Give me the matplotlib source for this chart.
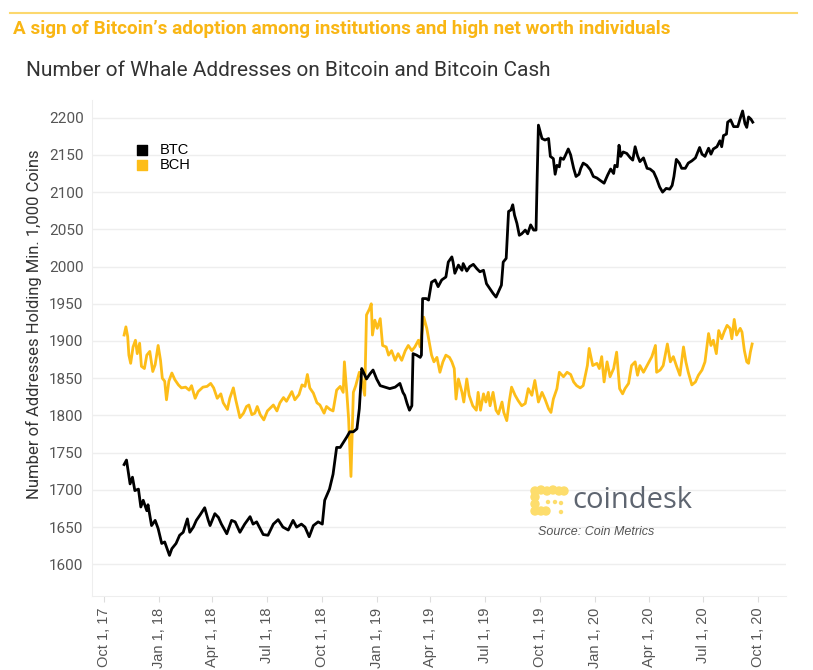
import numpy as np
import pandas as pd
import matplotlib
matplotlib.use('Agg')
import matplotlib.pyplot as plt
from matplotlib.patches import Circle
from matplotlib.transforms import IdentityTransform

plt.rcParams['font.family'] = ['Roboto', 'DejaVu Sans']

start = pd.Timestamp('2017-10-01')

# day offset from Oct 1 2017, whale address count
btc_days = [34, 38, 44, 48, 52, 58, 62, 66, 72, 74, 80, 86, 91, 97, 102, 110, 114,
            121, 127, 133, 140, 144, 150, 155, 161, 169, 175, 178, 186, 192, 197,
            206, 214, 220, 228, 236, 245, 250, 256, 267, 275, 284, 292, 300, 309,
            317, 323, 331, 337, 344, 351, 359, 366, 370, 378, 384, 390, 396, 407,
            412, 418, 424, 428, 432, 435, 440, 446, 451, 457, 463, 471, 479, 488,
            496, 501, 504, 508, 512, 516, 518, 524, 530, 532, 534, 540, 544, 549,
            555, 560, 566, 573, 577, 583, 585, 588, 594, 600, 602, 608, 613, 619,
            625, 630, 636, 641, 647, 652, 657, 661, 666, 669, 674, 678, 682, 685,
            688, 692, 696, 700, 706, 710, 715, 720, 724, 726, 728, 734, 739, 745,
            748, 753, 756, 759, 763, 765, 770, 773, 778, 782, 787, 791, 796, 799,
            803, 809, 815, 820, 826, 831, 838, 844, 849, 854, 856, 860, 863, 866,
            870, 876, 882, 886, 890, 894, 898, 904, 910, 915, 921, 926, 931, 936,
            942, 948, 952, 955, 959, 964, 968, 974, 979, 985, 991, 998, 1002, 1007,
            1013, 1017, 1021, 1027, 1032, 1035, 1038, 1043, 1045, 1050, 1055, 1062,
            1066, 1070, 1074, 1077, 1080, 1084, 1087]
btc_vals = [1734, 1740, 1708, 1717, 1699, 1701, 1677, 1686, 1672, 1680, 1652, 1659,
            1648, 1628, 1630, 1612, 1621, 1628, 1639, 1643, 1661, 1643, 1650, 1659,
            1666, 1676, 1659, 1652, 1668, 1663, 1654, 1641, 1659, 1657, 1643, 1654,
            1664, 1654, 1657, 1640, 1639, 1654, 1660, 1650, 1646, 1659, 1650, 1654,
            1650, 1637, 1652, 1657, 1654, 1686, 1701, 1721, 1757, 1757, 1771, 1778,
            1778, 1782, 1809, 1863, 1858, 1849, 1856, 1861, 1849, 1840, 1838, 1836,
            1838, 1843, 1831, 1827, 1816, 1807, 1813, 1883, 1881, 1878, 1881, 1957,
            1957, 1955, 1979, 1982, 1973, 1982, 1986, 2006, 2013, 2006, 1991, 2002,
            1995, 2004, 1994, 2000, 2003, 1997, 1993, 1995, 1977, 1970, 1964, 1959,
            1966, 1975, 2006, 2011, 2074, 2076, 2083, 2069, 2058, 2042, 2044, 2049,
            2044, 2056, 2049, 2049, 2123, 2190, 2172, 2170, 2172, 2148, 2145, 2124,
            2136, 2134, 2146, 2144, 2149, 2158, 2150, 2132, 2121, 2124, 2132, 2139,
            2136, 2130, 2121, 2119, 2116, 2112, 2123, 2131, 2125, 2136, 2134, 2163,
            2148, 2154, 2152, 2146, 2143, 2161, 2149, 2141, 2146, 2132, 2131, 2127,
            2118, 2107, 2100, 2105, 2104, 2109, 2121, 2144, 2139, 2132, 2132, 2139,
            2142, 2146, 2160, 2151, 2148, 2159, 2151, 2158, 2161, 2169, 2161, 2176,
            2178, 2194, 2197, 2188, 2188, 2199, 2209, 2192, 2187, 2201, 2198, 2194]

bch_days = [34, 37, 40, 42, 45, 49, 53, 56, 60, 63, 68, 72, 77, 82, 86, 91, 95, 98,
            102, 105, 109, 114, 119, 125, 130, 137, 143, 147, 153, 158, 166, 173,
            179, 184, 190, 196, 200, 207, 211, 217, 221, 228, 234, 239, 243, 248,
            253, 257, 262, 268, 274, 279, 284, 290, 295, 301, 306, 315, 320, 327,
            332, 337, 341, 345, 351, 357, 362, 369, 373, 379, 384, 390, 396, 401,
            403, 407, 410, 414, 418, 422, 428, 432, 437, 440, 445, 448, 450, 454,
            458, 463, 467, 473, 477, 482, 488, 493, 499, 505, 510, 516, 521, 527,
            530, 536, 541, 545, 549, 553, 558, 563, 568, 573, 579, 583, 587, 590,
            594, 600, 603, 608, 612, 618, 624, 627, 631, 636, 640, 644, 647, 652,
            657, 661, 667, 670, 675, 679, 683, 689, 694, 700, 706, 711, 717, 722,
            728, 734, 739, 745, 749, 753, 759, 763, 770, 776, 782, 787, 792, 798,
            803, 810, 813, 819, 826, 830, 834, 838, 843, 848, 854, 859, 864, 869,
            873, 879, 884, 890, 894, 898, 904, 910, 918, 924, 926, 932, 937, 944,
            949, 954, 959, 965, 971, 975, 979, 985, 991, 996, 1002, 1007, 1013,
            1017, 1021, 1026, 1030, 1035, 1039, 1044, 1049, 1052, 1056, 1060, 1066,
            1069, 1073, 1077, 1080, 1083, 1086]
bch_vals = [1908, 1919, 1906, 1881, 1870, 1892, 1901, 1883, 1897, 1866, 1863, 1881,
            1886, 1859, 1868, 1894, 1874, 1850, 1846, 1821, 1846, 1857, 1848, 1841,
            1837, 1838, 1834, 1840, 1823, 1832, 1838, 1839, 1843, 1837, 1823, 1829,
            1817, 1808, 1823, 1837, 1821, 1797, 1803, 1812, 1814, 1801, 1803, 1812,
            1801, 1794, 1806, 1810, 1814, 1806, 1817, 1824, 1819, 1832, 1821, 1828,
            1841, 1839, 1855, 1837, 1830, 1817, 1814, 1803, 1812, 1808, 1806, 1834,
            1839, 1831, 1872, 1831, 1796, 1718, 1831, 1840, 1858, 1849, 1827, 1935,
            1943, 1950, 1908, 1928, 1917, 1930, 1894, 1892, 1881, 1887, 1874, 1883,
            1874, 1887, 1894, 1887, 1892, 1901, 1892, 1932, 1917, 1899, 1881, 1872,
            1878, 1858, 1872, 1881, 1878, 1872, 1863, 1822, 1849, 1831, 1818, 1849,
            1827, 1813, 1807, 1831, 1807, 1829, 1818, 1831, 1813, 1831, 1807, 1802,
            1818, 1804, 1793, 1818, 1838, 1827, 1820, 1813, 1816, 1836, 1827, 1847,
            1818, 1831, 1822, 1809, 1804, 1822, 1836, 1858, 1852, 1858, 1855, 1845,
            1840, 1837, 1840, 1867, 1890, 1867, 1870, 1863, 1879, 1845, 1872, 1852,
            1863, 1885, 1836, 1829, 1836, 1843, 1867, 1872, 1854, 1867, 1858, 1867,
            1879, 1894, 1858, 1861, 1867, 1896, 1872, 1879, 1867, 1854, 1892, 1872,
            1858, 1841, 1845, 1854, 1861, 1872, 1910, 1894, 1901, 1883, 1914, 1903,
            1912, 1921, 1917, 1903, 1929, 1908, 1917, 1912, 1887, 1872, 1870, 1885,
            1896]

tick_dates = ['2017-10-01', '2018-01-01', '2018-04-01', '2018-07-01', '2018-10-01',
              '2019-01-01', '2019-04-01', '2019-07-01', '2019-10-01', '2020-01-01',
              '2020-04-01', '2020-07-01', '2020-10-01']
tick_labels = ['Oct 1, 17', 'Jan 1, 18', 'Apr 1, 18', 'Jul 1, 18', 'Oct 1, 18',
               'Jan 1, 19', 'Apr 1, 19', 'Jul 1, 19', 'Oct 1, 19', 'Jan 1, 20',
               'Apr 1, 20', 'Jul 1, 20', 'Oct 1, 20']
y_ticks = [1600, 1650, 1700, 1750, 1800, 1850, 1900, 1950, 2000, 2050, 2100, 2150, 2200]

btc_x = start + pd.to_timedelta(btc_days, unit='D')
bch_x = start + pd.to_timedelta(bch_days, unit='D')

gold = '#FDBD18'
W, H = 813, 670
fig = plt.figure(figsize=(8.13, 6.70), dpi=100)
ax = fig.add_axes([0.113, 0.110, 0.854, 0.741])

ax.plot(bch_x, bch_vals, color=gold, lw=2.0, zorder=3)
ax.plot(btc_x, btc_vals, color='black', lw=2.0, zorder=4)

ax.set_ylim(1557, 2224)
ax.set_xlim(start - pd.Timedelta(days=20), start + pd.Timedelta(days=1143))
ax.set_yticks(y_ticks)
ax.set_xticks(pd.to_datetime(tick_dates))
ax.set_xticklabels(tick_labels, rotation=90, fontsize=10.5, color='#555555',
                   family=['Liberation Sans', 'DejaVu Sans'])
ax.tick_params(axis='y', length=0, labelsize=11, labelcolor='#555555', pad=6)
ax.tick_params(axis='x', length=4, color='#dddddd', pad=4)
ax.grid(axis='y', color='#eeeeee', lw=1)
for s in ['top', 'right']:
    ax.spines[s].set_visible(False)
for s in ['left', 'bottom']:
    ax.spines[s].set_color('#eeeeee')
ax.set_ylabel('Number of Addresses Holding Min. 1,000 Coins', fontsize=12,
              color='#333333')
ax.yaxis.set_label_coords(-0.072, 0.548)

# legend squares
ax.scatter([], [], marker='s', s=55, color='black', label='BTC')
ax.scatter([], [], marker='s', s=55, color=gold, label='BCH')
ax.legend(loc='upper left', bbox_to_anchor=(0.043, 0.925), frameon=False,
          handletextpad=0.2, labelspacing=0.05, borderaxespad=0,
          prop={'family': ['Liberation Sans', 'DejaVu Sans'], 'size': 10.5})

# header
fig.add_artist(plt.Line2D([10 / W, 797 / W], [1 - 12.5 / H, 1 - 12.5 / H],
                          color='#FCD86E', lw=1.5))
fig.text(13 / W, 1 - 29 / H, 'A sign of Bitcoin\u2019s adoption among institutions and high net worth individuals',
         color='#F9B614', fontsize=13.6, fontweight='bold', va='center', ha='left')
fig.text(26 / W, 1 - 70 / H, 'Number of Whale Addresses on Bitcoin and Bitcoin Cash',
         color='#333333', fontsize=15, va='center', ha='left')

# coindesk mark (pixel positions)
logo_x = [535, 541, 547, 553, 559, 564, 535, 535, 535, 541, 546, 548, 555, 561, 561]
logo_y = [491, 490, 491, 490, 491, 491, 497, 504, 511, 511, 511, 502, 502, 503, 512]
logo_r = [4, 4, 4, 4, 4, 4, 4, 4, 4, 4, 4, 1.5, 1.5, 1.5, 1.5]
for lx, ly, lr in zip(logo_x, logo_y, logo_r):
    fig.add_artist(Circle((lx, H - ly), radius=lr, transform=IdentityTransform(),
                          color='#FDDD6C', zorder=5))
fig.text(572 / W, 1 - 500 / H, 'coindesk', color='#5E6570', fontsize=21,
         va='center', ha='left', family=['Open Sans', 'DejaVu Sans'])
fig.text(538 / W, 1 - 532 / H, 'Source: Coin Metrics', color='#555555', fontsize=9,
         style='italic', va='center', ha='left', family=['Liberation Sans', 'DejaVu Sans'])

fig.savefig('out.png', dpi=100)
